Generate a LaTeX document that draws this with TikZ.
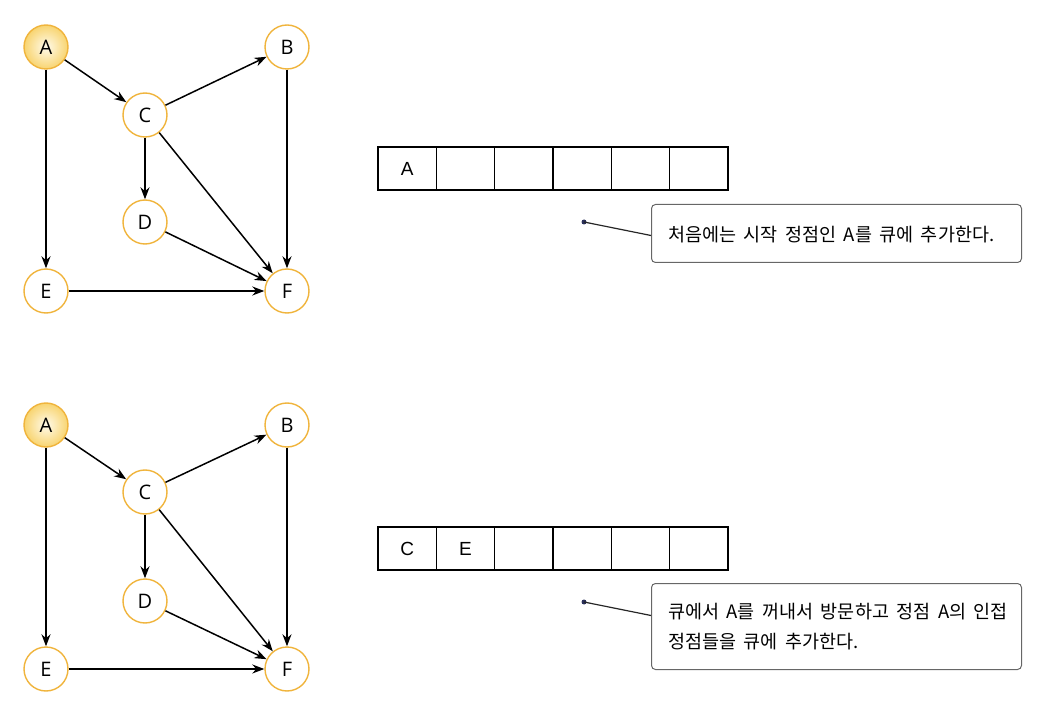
\documentclass[tikz,border=0pt]{standalone}
\usepackage{fontspec}
\setmainfont{Open Sans}
\newfontfamily\kr[WordSpace=1.8]{Noto Sans CJK KR}
\newfontfamily\qf{Liberation Sans}
\usetikzlibrary{arrows.meta}
\definecolor{ring}{HTML}{F0B43C}
\definecolor{ringfill}{HTML}{F8D470}
\definecolor{ringin}{HTML}{FFFBEB}
\definecolor{navy}{HTML}{2A2F5A}
\tikzset{
  vert/.style={circle, draw=ring, line width=1.4pt, minimum size=44pt, inner sep=0pt, fill=white, font=\fontsize{20}{22}\selectfont},
  startv/.style={vert, inner color=ringin, outer color=ringfill},
  edge/.style={-{Stealth[length=12pt,width=9pt]}, line width=1.5pt, black},
  cell/.style={draw, line width=1.3pt, minimum width=58.33pt, minimum height=43pt, inner sep=0pt, outer sep=0pt, font=\qf\fontsize{19}{21}\selectfont},
  callbox/.style={draw=black!60, line width=1pt, rounded corners=4pt, minimum width=370pt, inner sep=0pt},
  calltext/.style={anchor=north west, inner sep=0pt, align=left, font=\kr\fontsize{18.5}{30}\selectfont},
  dot/.style={circle, fill=navy, inner sep=0pt, minimum size=5pt},
  lead/.style={line width=1.2pt, black!85}
}
\begin{document}
\begin{tikzpicture}[x=1pt,y=-1pt]
\useasboundingbox (0,0) rectangle (1042,703);
% ---------- top graph
\node[startv] (A1) at (46,47) {A};
\node[vert] (B1) at (287,47) {B};
\node[vert] (C1) at (145,115) {C};
\node[vert] (D1) at (145,222) {D};
\node[vert] (E1) at (46,291) {E};
\node[vert] (F1) at (287,291) {F};
\draw[edge] (A1) -- (C1);
\draw[edge] (A1) -- (E1);
\draw[edge] (C1) -- (B1);
\draw[edge] (C1) -- (D1);
\draw[edge] (C1) -- (F1);
\draw[edge] (D1) -- (F1);
\draw[edge] (B1) -- (F1);
\draw[edge] (E1) -- (F1);
% ---------- top queue
\node[cell, anchor=north west] (q11) at (378,147) {A};
\node[cell, anchor=west] (q12) at (q11.east) {};
\node[cell, anchor=west] (q13) at (q12.east) {};
\node[cell, anchor=west] (q14) at (q13.east) {};
\node[cell, anchor=west] (q15) at (q14.east) {};
\node[cell, anchor=west] (q16) at (q15.east) {};
% ---------- top callout
\node[callbox, minimum height=58pt, anchor=north west] (box1) at (651,204) {};
\node[calltext] (t1) at (668,226) {처음에는 시작 정점인 A를 큐에 추가한다.};
\node[dot] (p1) at (584,222) {};
\draw[lead] (p1.center) -- ([yshift=-2pt]box1.west);
% ---------- bottom graph
\node[startv] (A2) at (46,425) {A};
\node[vert] (B2) at (287,425) {B};
\node[vert] (C2) at (145,492) {C};
\node[vert] (D2) at (145,601) {D};
\node[vert] (E2) at (46,669) {E};
\node[vert] (F2) at (287,669) {F};
\draw[edge] (A2) -- (C2);
\draw[edge] (A2) -- (E2);
\draw[edge] (C2) -- (B2);
\draw[edge] (C2) -- (D2);
\draw[edge] (C2) -- (F2);
\draw[edge] (D2) -- (F2);
\draw[edge] (B2) -- (F2);
\draw[edge] (E2) -- (F2);
% ---------- bottom queue
\node[cell, anchor=north west] (q21) at (378,527) {C};
\node[cell, anchor=west] (q22) at (q21.east) {E};
\node[cell, anchor=west] (q23) at (q22.east) {};
\node[cell, anchor=west] (q24) at (q23.east) {};
\node[cell, anchor=west] (q25) at (q24.east) {};
\node[cell, anchor=west] (q26) at (q25.east) {};
% ---------- bottom callout
\node[callbox, minimum height=86pt, anchor=north west] (box2) at (651,583) {};
\node[calltext] (t2) at (668,603) {큐에서 A를 꺼내서 방문하고 정점 A의 인접\\정점들을 큐에 추가한다.};
\node[dot] (p2) at (584,602) {};
\draw[lead] (p2.center) -- ([yshift=11pt]box2.west);
\end{tikzpicture}
\end{document}
